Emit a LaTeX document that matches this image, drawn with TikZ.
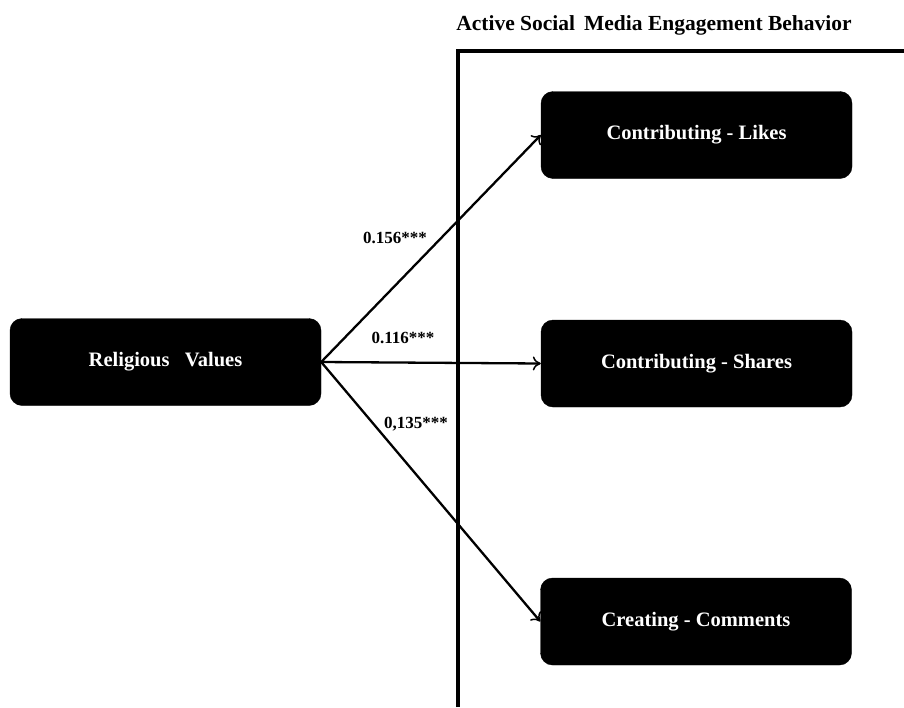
\documentclass[tikz,border=0pt]{standalone}
\usepackage{fontspec}
\setmainfont{Liberation Serif}
\usetikzlibrary{arrows.meta}
\begin{document}
\begin{tikzpicture}[x=1pt,y=-1pt,
  box/.style={fill=black,draw=black,rounded corners=12pt,minimum width=311pt,minimum height=87pt,inner sep=0pt,
    text=white,font=\fontsize{20.5}{22}\selectfont\bfseries},
  conn/.style={line width=2.3pt,-{To[length=8pt,width=14pt,line width=1.5pt]}},
  lbl/.style={font=\fontsize{17}{19}\selectfont\bfseries,inner sep=0pt}]
\useasboundingbox (0,0) rectangle (904,707);
\fill[white] (0,0) rectangle (904,707);
\draw[line width=3.5pt] (458,707) -- (458,51) -- (904,51);
\node[font=\fontsize{21.5}{23}\selectfont\bfseries] (title) at (654,25) {Active Social\, Media Engagement Behavior};
\node[box] (rv) at (165.5,362) {Religious\ \ \ Values};
\node[box] (likes) at (696.5,135) {Contributing - Likes};
\node[box] (shares) at (696.5,363.5) {Contributing - Shares};
\node[box] (comments) at (696,621.5) {Creating - Comments};
\draw[conn] (rv.east) -- (likes.west);
\draw[conn] (rv.east) -- (shares.west);
\draw[conn] (rv.east) -- (comments.west);
\node[lbl] (l1) at (395,238) {0.156***};
\node[lbl] (l2) at (403,338) {0.116***};
\node[lbl] (l3) at (416,424) {0,135***};
\end{tikzpicture}
\end{document}
